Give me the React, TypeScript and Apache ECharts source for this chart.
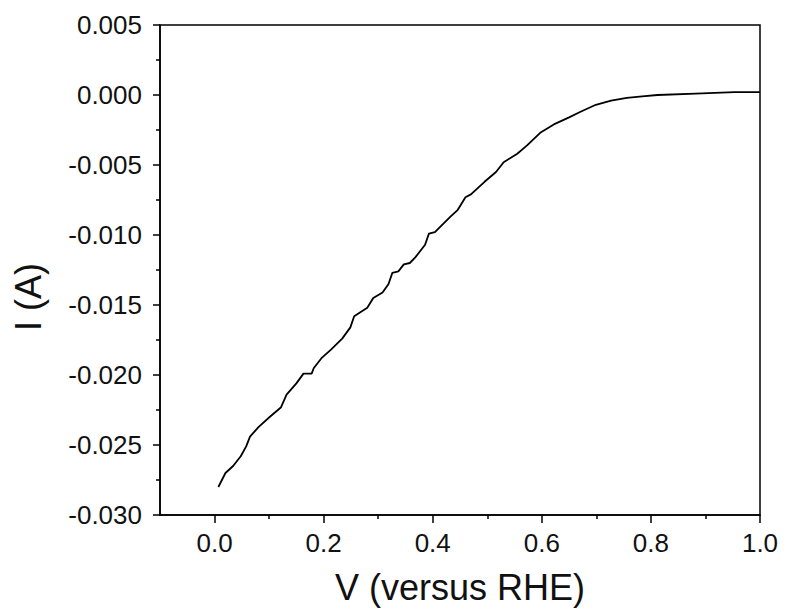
import React, { useEffect, useRef } from "react";
import * as echarts from "echarts";

const voltage = [
  0.007, 0.02, 0.034, 0.048, 0.058, 0.065, 0.081, 0.101, 0.122, 0.132, 0.15, 0.163,
  0.178, 0.182, 0.196, 0.213, 0.234, 0.249, 0.256, 0.28, 0.291, 0.308, 0.319, 0.326,
  0.337, 0.347, 0.358, 0.368, 0.386, 0.393, 0.404, 0.432, 0.446, 0.46, 0.47, 0.495,
  0.516, 0.53, 0.555, 0.573, 0.597, 0.622, 0.65, 0.671, 0.699, 0.727, 0.756, 0.784,
  0.812, 0.882, 0.953, 1.0,
];
const current = [
  -0.028, -0.027, -0.0265, -0.0258, -0.0251, -0.0244, -0.0237, -0.023, -0.0223, -0.0214,
  -0.0206, -0.0199, -0.0199, -0.0195, -0.0188, -0.0182, -0.0174, -0.0166, -0.0158, -0.0152,
  -0.0145, -0.0141, -0.0135, -0.0127, -0.0126, -0.0121, -0.012, -0.0116, -0.0107, -0.0099,
  -0.0098, -0.0087, -0.0082, -0.0073, -0.0071, -0.0062, -0.0055, -0.0048, -0.0042, -0.0036,
  -0.0027, -0.0021, -0.0016, -0.0012, -0.0007, -0.0004, -0.0002, -0.0001, 0.0, 0.0001,
  0.0002, 0.0002,
];
const xMajorTicks = [0, 0.2, 0.4, 0.6, 0.8, 1.0];
const xMinorTicks = [0.1, 0.3, 0.5, 0.7, 0.9];
const xTitle = "V (versus RHE)";
const yTitle = "I (A)";

const FONT = "'Liberation Sans', Arial, sans-serif";

export default function App() {
  const ref = useRef<HTMLDivElement>(null);
  useEffect(() => {
    if (!ref.current) return;
    const chart = echarts.init(ref.current, undefined, { renderer: "svg" });
    const data = voltage.map((v, i) => [v, current[i]]);
    chart.setOption({
      animation: false,
      backgroundColor: "#fff",
      grid: {
        left: 160,
        right: 25,
        top: 25,
        bottom: 95,
        show: true,
        borderColor: "#000",
        borderWidth: 1.5,
        backgroundColor: "transparent",
      },
      xAxis: [
        {
          type: "value",
          min: -0.1,
          max: 1.0,
          splitLine: { show: false },
          axisLine: { show: true, onZero: false, lineStyle: { color: "#000", width: 1.5 } },
          axisTick: {
            show: true,
            customValues: xMajorTicks,
            length: 8,
            inside: false,
            lineStyle: { color: "#000", width: 1.5 },
          },
          axisLabel: {
            customValues: xMajorTicks,
            formatter: (v: number) => v.toFixed(1),
            fontSize: 26,
            fontFamily: FONT,
            color: "#111",
            margin: 15,
          },
          name: xTitle,
          nameLocation: "middle",
          nameGap: 54,
          nameTextStyle: { fontSize: 36, fontFamily: FONT, color: "#111" },
        },
        {
          type: "value",
          min: -0.1,
          max: 1.0,
          position: "bottom",
          splitLine: { show: false },
          axisLine: { show: false, onZero: false },
          axisTick: {
            show: true,
            customValues: xMinorTicks,
            length: 4,
            lineStyle: { color: "#000", width: 1.5 },
          },
          axisLabel: { show: false },
        },
      ],
      yAxis: {
        type: "value",
        min: -0.03,
        max: 0.005,
        interval: 0.005,
        splitLine: { show: false },
        axisLine: { show: true, onZero: false, lineStyle: { color: "#000", width: 1.5 } },
        axisTick: { show: true, length: 7, lineStyle: { color: "#000", width: 1.5 } },
        minorTick: { show: true, splitNumber: 2, length: 4, lineStyle: { color: "#000", width: 1.5 } },
        minorSplitLine: { show: false },
        axisLabel: {
          formatter: (v: number) => {
            const r = Math.round(v * 1000) / 1000;
            return (Math.abs(r) < 1e-9 ? 0 : r).toFixed(3);
          },
          fontSize: 26,
          fontFamily: FONT,
          color: "#111",
          margin: 18,
        },
      },
      graphic: [
        {
          type: "text",
          x: 28,
          y: 297,
          rotation: Math.PI / 2,
          style: {
            text: yTitle,
            font: `36px ${FONT}`,
            fill: "#111",
            align: "center",
            verticalAlign: "middle",
          },
        },
      ],
      series: [
        {
          type: "line",
          data,
          showSymbol: false,
          lineStyle: { color: "#000", width: 1.8 },
          itemStyle: { color: "#000" },
        },
      ],
    });
    return () => chart.dispose();
  }, []);
  return <div ref={ref} style={{ width: 785, height: 610, position: "fixed", left: 0, top: 0 }} />;
}
